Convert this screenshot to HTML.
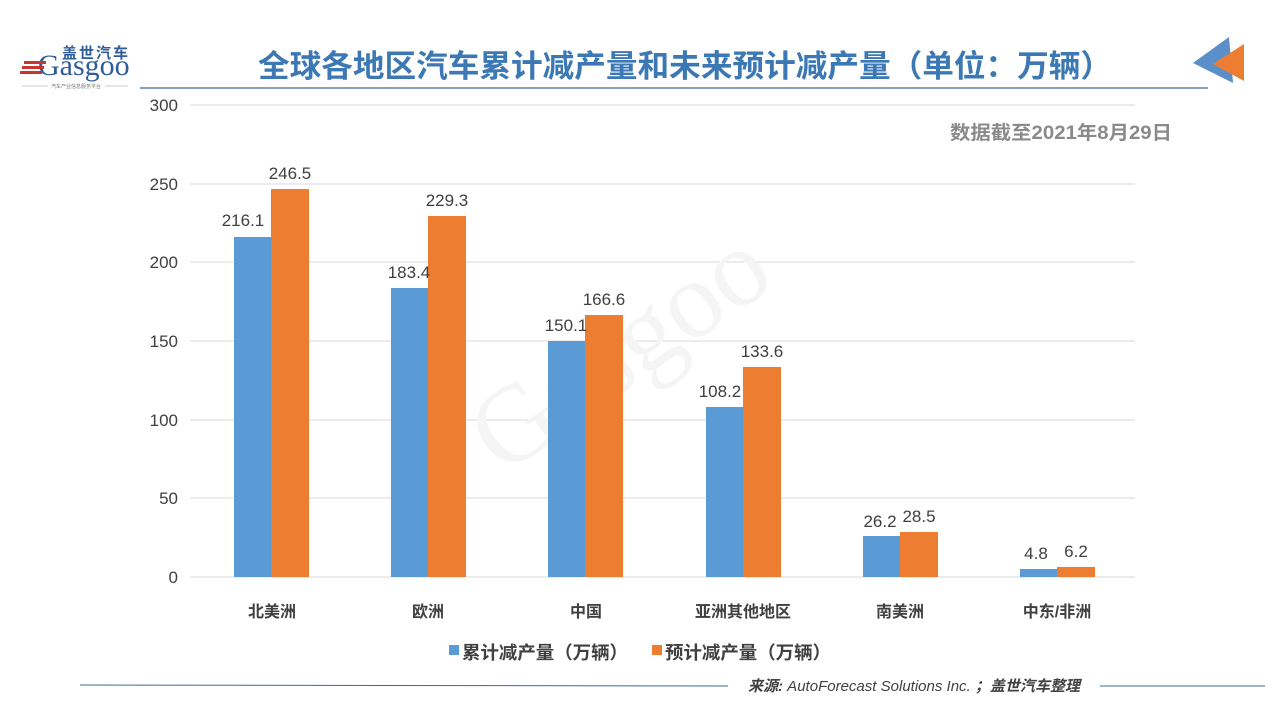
<!DOCTYPE html>
<html><head><meta charset="utf-8"><style>
body{margin:0;width:1280px;height:720px;background:#fff;overflow:hidden;font-family:"Liberation Sans","Noto Sans CJK SC",sans-serif;}
</style></head><body>
<svg width="1280" height="720" xmlns="http://www.w3.org/2000/svg" font-family="Liberation Sans, Noto Sans CJK SC, sans-serif">
<!-- logo -->
<text x="62" y="58" font-size="15" font-weight="bold" fill="#2f5d9a" letter-spacing="2">盖世汽车</text>
<text x="38" y="75" font-size="30" fill="#2f5d9a" font-family="Liberation Serif, serif">Gasgoo</text>
<rect x="24" y="61" width="22" height="3" fill="#c8352f"/><rect x="22" y="66" width="22" height="3" fill="#c8352f"/><rect x="20" y="71" width="22" height="3" fill="#c8352f"/>
<line x1="22" y1="86" x2="48" y2="86" stroke="#999" stroke-width="0.6"/><line x1="105" y1="86" x2="128" y2="86" stroke="#999" stroke-width="0.6"/>
<text x="76" y="88" font-size="5" fill="#777" text-anchor="middle">汽车产业信息服务平台</text>
<!-- title -->
<text x="685" y="77" font-size="31" font-weight="bold" fill="#3b78b4" text-anchor="middle" textLength="854" lengthAdjust="spacingAndGlyphs">全球各地区汽车累计减产量和未来预计减产量（单位：万辆）</text>
<line x1="140" y1="88" x2="1208" y2="88" stroke="#3a6a9a" stroke-width="1.2"/>
<polygon points="1193,63 1229,37 1233,83" fill="#5b8fc9"/>
<polygon points="1213,64 1244,44 1244,81" fill="#ed7d31"/>
<text x="1172" y="139" font-size="19" font-weight="bold" fill="#8a8a8a" text-anchor="end" textLength="222" lengthAdjust="spacingAndGlyphs">数据截至2021年8月29日</text>
<!-- grid -->
<g stroke="#d9d9d9" stroke-width="1">
<line x1="190" y1="105" x2="1135" y2="105"/><line x1="190" y1="184" x2="1135" y2="184"/><line x1="190" y1="262" x2="1135" y2="262"/><line x1="190" y1="341" x2="1135" y2="341"/><line x1="190" y1="420" x2="1135" y2="420"/><line x1="190" y1="498" x2="1135" y2="498"/><line x1="190" y1="577" x2="1135" y2="577"/>
</g>
<g font-size="17" fill="#404040" text-anchor="end">
<text x="178" y="111">300</text><text x="178" y="190">250</text><text x="178" y="268">200</text><text x="178" y="347">150</text><text x="178" y="426">100</text><text x="178" y="504">50</text><text x="178" y="583">0</text>
</g>
<!-- watermark -->
<text x="640" y="380" font-size="110" fill="#f5f5f5" font-family="Liberation Serif, serif" transform="rotate(-35 640 380)" text-anchor="middle">Gasgoo</text>
<!-- bars -->
<g>
<rect x="234" y="237" width="37" height="340" fill="#5b9bd5"/><rect x="271" y="189" width="38" height="388" fill="#ed7d31"/>
<rect x="391" y="288" width="37" height="289" fill="#5b9bd5"/><rect x="428" y="216" width="38" height="361" fill="#ed7d31"/>
<rect x="548" y="341" width="37" height="236" fill="#5b9bd5"/><rect x="585" y="315" width="38" height="262" fill="#ed7d31"/>
<rect x="706" y="407" width="37" height="170" fill="#5b9bd5"/><rect x="743" y="367" width="38" height="210" fill="#ed7d31"/>
<rect x="863" y="536" width="37" height="41" fill="#5b9bd5"/><rect x="900" y="532" width="38" height="45" fill="#ed7d31"/>
<rect x="1020" y="569" width="37" height="8" fill="#5b9bd5"/><rect x="1057" y="567" width="38" height="10" fill="#ed7d31"/>
</g>
<g font-size="17" fill="#404040" text-anchor="middle">
<text x="243" y="226">216.1</text><text x="290" y="179">246.5</text>
<text x="409" y="278">183.4</text><text x="447" y="206">229.3</text>
<text x="566" y="331">150.1</text><text x="604" y="305">166.6</text>
<text x="720" y="397">108.2</text><text x="762" y="357">133.6</text>
<text x="880" y="527">26.2</text><text x="919" y="522">28.5</text>
<text x="1036" y="559">4.8</text><text x="1076" y="557">6.2</text>
</g>
<g font-size="16" fill="#404040" text-anchor="middle" font-weight="bold">
<text x="272" y="617">北美洲</text><text x="428" y="617">欧洲</text><text x="586" y="617">中国</text><text x="743" y="617">亚洲其他地区</text><text x="900" y="617">南美洲</text><text x="1057" y="617">中东/非洲</text>
</g>
<rect x="449" y="645" width="10" height="10" fill="#5b9bd5"/>
<text x="462" y="659" font-size="18" font-weight="bold" fill="#404040" textLength="166" lengthAdjust="spacingAndGlyphs">累计减产量（万辆）</text>
<rect x="652" y="645" width="10" height="10" fill="#ed7d31"/>
<text x="665" y="659" font-size="18" font-weight="bold" fill="#404040" textLength="166" lengthAdjust="spacingAndGlyphs">预计减产量（万辆）</text>
<!-- footer -->
<line x1="80" y1="685" x2="728" y2="686" stroke="#3a6a9a" stroke-width="1"/>
<line x1="1100" y1="686" x2="1265" y2="686" stroke="#3a6a9a" stroke-width="1"/>
<text x="748" y="691" font-size="15" font-style="italic" fill="#404040" textLength="332" lengthAdjust="spacingAndGlyphs"><tspan font-weight="bold">来源:</tspan> AutoForecast Solutions Inc. <tspan font-weight="bold">；盖世汽车整理</tspan></text>
</svg>
</body></html>
